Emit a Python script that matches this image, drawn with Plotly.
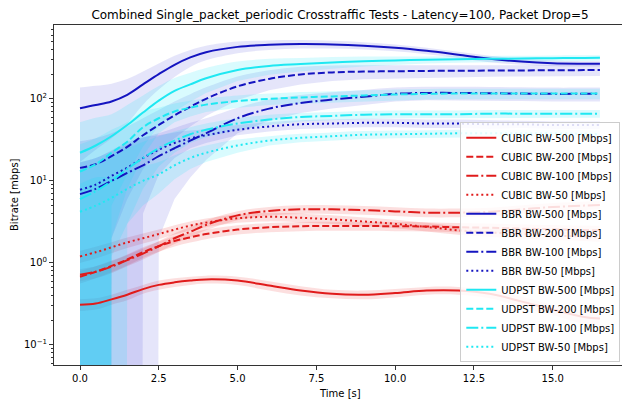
import plotly.graph_objects as go

# time grid [s]
time_s = [0, 0.5, 1, 1.5, 2, 2.5, 3, 3.5, 4, 5, 6, 7, 8, 9, 10, 11, 12, 13, 14, 15, 16, 16.5]

# mean bitrates [Mbps]
cubic_500 = [0.31, 0.32, 0.36, 0.41, 0.48, 0.54, 0.58, 0.61, 0.63, 0.61, 0.53, 0.46, 0.42, 0.41, 0.43, 0.46, 0.46, 0.42, 0.34, 0.27, 0.22, 0.21]
cubic_200 = [0.68, 0.78, 0.92, 1.1, 1.35, 1.6, 1.85, 2.05, 2.25, 2.55, 2.72, 2.8, 2.82, 2.82, 2.8, 2.78, 2.72, 2.68, 2.62, 2.57, 2.52, 2.5]
cubic_100 = [0.72, 0.78, 0.9, 1.08, 1.3, 1.6, 2.0, 2.4, 2.9, 3.8, 4.3, 4.5, 4.5, 4.4, 4.25, 4.1, 4.1, 4.2, 4.5, 4.8, 5.0, 5.1]
cubic_50 = [1.2, 1.35, 1.55, 1.78, 2.0, 2.25, 2.55, 2.85, 3.1, 3.5, 3.65, 3.55, 3.4, 3.2, 3.0, 2.75, 2.5, 2.35, 2.25, 2.15, 2.1, 2.05]
bbr_500 = [77, 84, 93, 112, 150, 200, 260, 320, 370, 430, 455, 465, 460, 445, 420, 385, 345, 308, 285, 272, 268, 267]
bbr_200 = [14.4, 16, 20, 26, 36, 48, 63, 80, 100, 142, 175, 198, 210, 215, 217, 219, 220, 221, 222, 223, 224, 225]
bbr_100 = [6.9, 8, 10, 12.5, 15.5, 20, 25, 31, 38, 58, 76, 89, 98, 106, 115, 118, 118, 117, 116, 115, 115, 115]
bbr_50 = [7.8, 9, 11.5, 14.5, 19, 24, 29, 33, 36, 42, 46, 49, 50, 51, 51, 50, 50, 49, 49, 48, 48, 48]
udpst_500 = [22, 27, 35, 48, 68, 95, 125, 150, 178, 225, 252, 265, 278, 287, 294, 299, 303, 307, 310, 313, 315, 316]
udpst_200 = [13, 16, 22, 30, 45, 58, 70, 78, 85, 94, 100, 104, 107, 110, 113, 115, 116, 116, 116, 116, 116, 116]
udpst_100 = [6, 7.5, 10, 14, 19, 25, 31, 37, 42, 50, 56, 60, 62, 64, 65, 65, 65, 66, 66, 66, 66, 66]
udpst_50 = [4.2, 5, 6.2, 8, 10, 12, 15.5, 19, 22, 27, 31, 33.5, 35, 36.5, 37, 37.5, 38, 38, 38, 38, 37.5, 37]

# standard deviations [Mbps]
cubic_500_sd = [0.05, 0.05, 0.05, 0.06, 0.06, 0.07, 0.07, 0.07, 0.07, 0.07, 0.07, 0.06, 0.05, 0.05, 0.05, 0.05, 0.05, 0.05, 0.05, 0.04, 0.04, 0.04]
cubic_200_sd = [0.12, 0.13, 0.15, 0.17, 0.2, 0.23, 0.26, 0.28, 0.3, 0.33, 0.35, 0.36, 0.36, 0.36, 0.36, 0.36, 0.35, 0.35, 0.34, 0.33, 0.33, 0.33]
cubic_100_sd = [0.12, 0.13, 0.15, 0.17, 0.2, 0.24, 0.3, 0.35, 0.4, 0.48, 0.52, 0.55, 0.55, 0.54, 0.52, 0.5, 0.5, 0.52, 0.55, 0.58, 0.6, 0.6]
cubic_50_sd = [0.2, 0.22, 0.24, 0.26, 0.28, 0.3, 0.33, 0.36, 0.38, 0.42, 0.44, 0.43, 0.41, 0.39, 0.36, 0.33, 0.3, 0.28, 0.27, 0.26, 0.25, 0.25]
bbr_500_sd = [60, 60, 60, 62, 65, 70, 75, 75, 75, 70, 60, 55, 50, 45, 40, 35, 30, 28, 25, 22, 20, 20]
bbr_200_sd = [16, 17, 18, 20, 22, 25, 30, 34, 38, 45, 48, 48, 45, 42, 40, 38, 36, 35, 35, 35, 35, 35]
bbr_100_sd = [10, 11, 13, 15, 18, 18, 19, 20, 20, 20, 22, 22, 22, 22, 22, 22, 22, 22, 22, 22, 22, 22]
bbr_50_sd = [9, 10, 12, 15, 15, 12, 10, 8, 7, 6, 6, 6, 6, 6, 6, 6, 6, 6, 5, 5, 5, 5]
udpst_500_sd = [30, 32, 30, 36, 42, 48, 55, 58, 60, 60, 55, 50, 45, 40, 35, 30, 28, 26, 25, 25, 25, 25]
udpst_200_sd = [15, 17, 20, 22, 25, 20, 18, 17, 16, 16, 16, 17, 17, 17, 17, 17, 17, 17, 17, 17, 17, 17]
udpst_100_sd = [8, 9, 11, 11, 11, 10, 9, 8, 8, 8, 8, 7, 7, 7, 7, 7, 7, 7, 7, 7, 7, 7]
udpst_50_sd = [5, 6, 5, 5, 5, 5, 5, 5, 5, 5, 4, 4, 4, 4, 4, 4, 4, 4, 4, 4, 4, 4]

series_names = ["CUBIC BW-500 [Mbps]", "CUBIC BW-200 [Mbps]", "CUBIC BW-100 [Mbps]", "CUBIC BW-50 [Mbps]",
                "BBR BW-500 [Mbps]", "BBR BW-200 [Mbps]", "BBR BW-100 [Mbps]", "BBR BW-50 [Mbps]",
                "UDPST BW-500 [Mbps]", "UDPST BW-200 [Mbps]", "UDPST BW-100 [Mbps]", "UDPST BW-50 [Mbps]"]
means = [cubic_500, cubic_200, cubic_100, cubic_50, bbr_500, bbr_200, bbr_100, bbr_50,
         udpst_500, udpst_200, udpst_100, udpst_50]
sds = [cubic_500_sd, cubic_200_sd, cubic_100_sd, cubic_50_sd, bbr_500_sd, bbr_200_sd, bbr_100_sd, bbr_50_sd,
       udpst_500_sd, udpst_200_sd, udpst_100_sd, udpst_50_sd]

RED, BLUE, CYAN = "#e01b1b", "#1414c0", "#1fe8f2"
RED_F, BLUE_F, CYAN_F = "rgba(235,40,40,0.15)", "rgba(40,40,210,0.12)", "rgba(0,225,245,0.15)"
line_colors = [RED] * 4 + [BLUE] * 4 + [CYAN] * 4
fill_colors = [RED_F] * 4 + [BLUE_F] * 4 + [CYAN_F] * 4
dashes = ["solid", "7px,3px", "12px,3px,2px,3px", "2px,3px"] * 3

fig = go.Figure()

# shaded +/- std bands (non-positive lower bounds drop off the log axis)
for m, s, fc in zip(means, sds, fill_colors):
    lower = [a - b if a - b > 0 else 1e-300 for a, b in zip(m, s)]
    upper = [a + b for a, b in zip(m, s)]
    clipped = any(v <= 1e-200 for v in lower)
    fig.add_trace(go.Scatter(x=time_s, y=lower, mode="lines",
                             line=dict(width=0, shape="linear" if clipped else "spline"),
                             showlegend=False, hoverinfo="skip"))
    fig.add_trace(go.Scatter(x=time_s, y=upper, mode="lines", fill="tonexty", fillcolor=fc,
                             line=dict(width=0, shape="spline"), showlegend=False, hoverinfo="skip"))

# mean lines
for name, m, c, d in zip(series_names, means, line_colors, dashes):
    fig.add_trace(go.Scatter(x=time_s, y=m, mode="lines", name=name,
                             line=dict(color=c, width=2, dash=d, shape="spline")))

minor_vals = []
for dec in [0.01, 0.1, 1, 10, 100]:
    for k in range(2, 10):
        minor_vals.append(k * dec)

fig.update_layout(
    template="none",
    width=622, height=400,
    margin=dict(l=54, r=0, t=25, b=35, pad=0),
    plot_bgcolor="white", paper_bgcolor="white",
    font=dict(family="DejaVu Sans", size=10, color="black"),
    title=dict(text="Combined Single_packet_periodic Crosstraffic Tests - Latency=100, Packet Drop=5",
               x=340 / 622, xanchor="center", y=1 - 15 / 400, yanchor="middle",
               font=dict(size=12, color="black")),
    showlegend=True,
    legend=dict(x=0.997, xanchor="right", y=0.008, yanchor="bottom", traceorder="normal",
                bgcolor="rgba(255,255,255,0.85)", bordercolor="#cccccc", borderwidth=1,
                font=dict(size=10), tracegroupgap=0, itemwidth=30),
    xaxis=dict(range=[-0.825, 17.2], tickvals=[0, 2.5, 5, 7.5, 10, 12.5, 15],
               ticktext=["0.0", "2.5", "5.0", "7.5", "10.0", "12.5", "15.0"],
               showline=True, linecolor="#333", linewidth=1, mirror=True, automargin=False,
               ticks="outside", ticklen=4, tickcolor="#333", showgrid=False, zeroline=False),
    yaxis=dict(type="log", range=[-1.244, 2.9], tickvals=[0.1, 1, 10, 100],
               ticktext=["10<sup>−1</sup>", "10<sup>0</sup>", "10<sup>1</sup>", "10<sup>2</sup>"],
               showline=True, linecolor="#333", linewidth=1, automargin=False,
               ticks="outside", ticklen=4, tickcolor="#333", showgrid=False, zeroline=False,
               minor=dict(tickvals=minor_vals, ticks="outside", ticklen=2, tickcolor="#333", showgrid=False)),
    annotations=[
        dict(text="Time [s]", x=(340 - 54) / 568, y=-(393 - 365) / 340, xref="paper", yref="paper",
             showarrow=False, font=dict(size=10), xanchor="center", yanchor="middle"),
        dict(text="Bitrate [mbps]", x=-(54 - 14) / 568, y=(365 - 195) / 340, xref="paper", yref="paper",
             showarrow=False, textangle=-90, font=dict(size=10), xanchor="center", yanchor="middle"),
    ],
)

fig.write_html("out.html", config={"displayModeBar": False},
               post_script="document.body.style.margin='0';")
